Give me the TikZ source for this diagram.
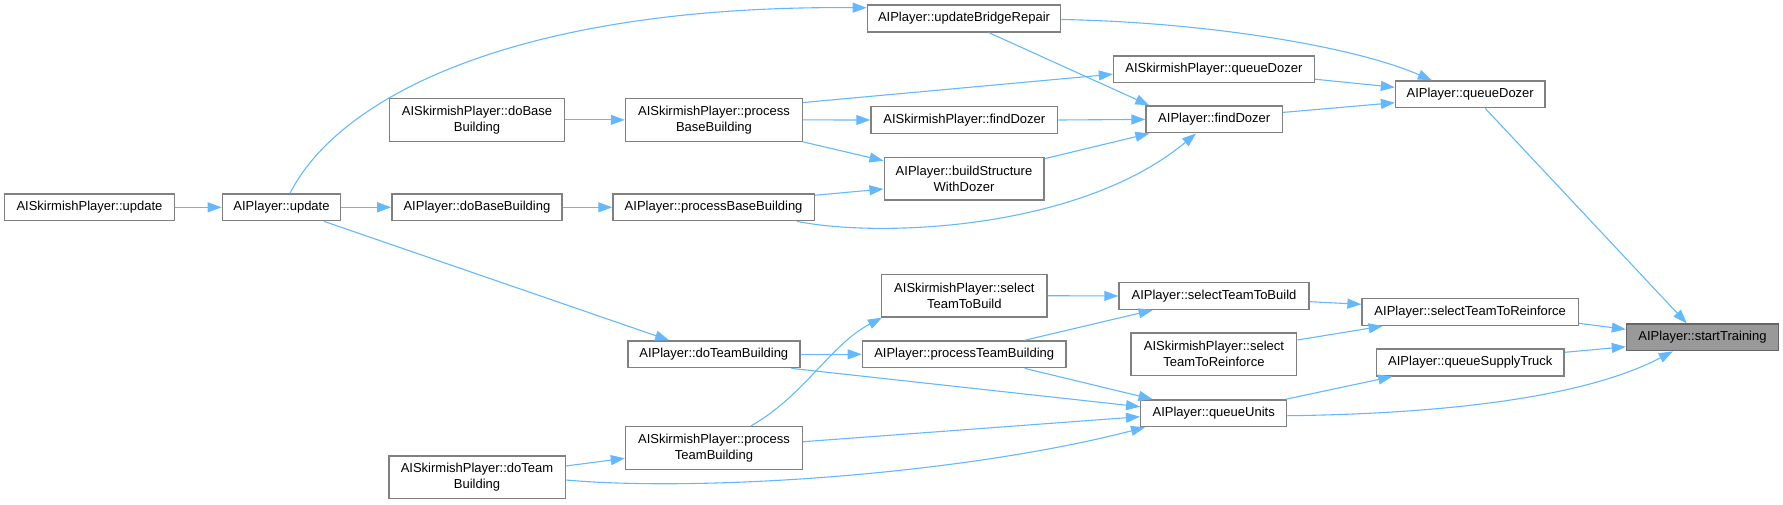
\documentclass[tikz,border=0pt]{standalone}
\usepackage{fontspec}
\setmainfont{Liberation Sans}
\usetikzlibrary{arrows.meta,calc}
\definecolor{edgeblue}{HTML}{63B8FF}
\definecolor{boxline}{HTML}{808080}
\definecolor{hlfill}{HTML}{999999}
\definecolor{hlline}{HTML}{666666}
\begin{document}
\begin{tikzpicture}[x=1pt,y=-1pt,
  fn/.style={draw=boxline, line width=1.4pt, fill=white, inner sep=0pt, align=center,
    font=\fontsize{13}{16}\selectfont, text=black, minimum height=26.7pt},
  tall/.style={minimum height=42.6pt},
  hl/.style={fill=hlfill, draw=hlline},
  call/.style={draw=edgeblue, line width=1.1pt, -{Triangle[length=14pt,width=10pt]}}]
\useasboundingbox (0,0) rectangle (1783,504);

% nodes
\node[fn, minimum width=170pt] (sUpdate) at (89.5,207.3) {AISkirmishPlayer::update};
\node[fn, minimum width=118.4pt] (pUpdate) at (281.5,207.3) {AIPlayer::update};
\node[fn, tall, minimum width=175pt] (sDoBase) at (477,119.9) {AISkirmishPlayer::doBase\\Building};
\node[fn, minimum width=170pt] (pDoBase) at (476.9,207.3) {AIPlayer::doBaseBuilding};
\node[fn, minimum width=193.3pt] (pBridge) at (964,18.5) {AIPlayer::updateBridgeRepair};
\node[fn, tall, minimum width=177pt] (sProcBase) at (714,119.9) {AISkirmishPlayer::process\\BaseBuilding};
\node[fn, minimum width=186.7pt] (sFindDozer) at (964.3,120) {AISkirmishPlayer::findDozer};
\node[fn, tall, minimum width=159.6pt] (pBuild) at (964,178.7) {AIPlayer::buildStructure\\WithDozer};
\node[fn, minimum width=201.3pt] (pProcBase) at (713.6,207.3) {AIPlayer::processBaseBuilding};
\node[fn, minimum width=200.8pt] (sQueueDozer) at (1213.9,69.2) {AISkirmishPlayer::queueDozer};
\node[fn, minimum width=136.3pt] (pFindDozer) at (1214.2,119.4) {AIPlayer::findDozer};
\node[fn, minimum width=149.3pt] (pQueueDozer) at (1470.2,94.3) {AIPlayer::queueDozer};
\node[fn, tall, minimum width=165.3pt] (sSelBuild) at (964.3,295.7) {AISkirmishPlayer::select\\TeamToBuild};
\node[fn, minimum width=190pt] (pSelBuild) at (1214,296) {AIPlayer::selectTeamToBuild};
\node[fn, minimum width=216.3pt] (pSelReinf) at (1470.2,312) {AIPlayer::selectTeamToReinforce};
\node[fn, hl, minimum width=152pt] (start) at (1702.5,337.3) {AIPlayer::startTraining};
\node[fn, tall, minimum width=165.7pt] (sSelReinf) at (1213.9,354.2) {AISkirmishPlayer::select\\TeamToReinforce};
\node[fn, minimum width=187.7pt] (pSupply) at (1470.3,362.5) {AIPlayer::queueSupplyTruck};
\node[fn, minimum width=146pt] (pQueueUnits) at (1213.7,413.3) {AIPlayer::queueUnits};
\node[fn, minimum width=172pt] (pDoTeam) at (713.8,354.3) {AIPlayer::doTeamBuilding};
\node[fn, minimum width=203.6pt] (pProcTeam) at (964.2,354.3) {AIPlayer::processTeamBuilding};
\node[fn, tall, minimum width=177pt] (sProcTeam) at (714,447.9) {AISkirmishPlayer::process\\TeamBuilding};
\node[fn, tall, minimum width=176.4pt] (sDoTeam) at (477,477.3) {AISkirmishPlayer::doTeam\\Building};

% edges
\draw[call] (sUpdate.east) -- (pUpdate.west);
\draw[call] (pUpdate.east) -- (pDoBase.west);
\draw[call] ($(pUpdate.north)+(8.5,0)$) .. controls (340,95) and (520,5) .. ($(pBridge.north west)+(0,3.3)$);
\draw[call] ($(pUpdate.south)+(42.5,0)$) -- ($(pDoTeam.north west)+(42,0)$);
\draw[call] (sDoBase.east) -- (sProcBase.west);
\draw[call] (pDoBase.east) -- (pProcBase.west);
\draw[call] ($(sProcBase.north east)+(0,4.6)$) -- ($(sQueueDozer.west)+(0,5)$);
\draw[call] (sProcBase.east) -- (sFindDozer.west);
\draw[call] (sProcBase.south east) -- ($(pBuild.north west)+(0,4)$);
\draw[call] ($(pProcBase.north east)+(0,2)$) -- ($(pBuild.south west)+(0,-11.7)$);
\draw[call] ($(pProcBase.south east)+(-18,0)$) .. controls (880,238) and (1080,230) .. ($(pFindDozer.south west)+(50.7,0)$);
\draw[call] ($(pBridge.south)+(24.7,0)$) -- ($(pFindDozer.north west)+(4,0)$);
\draw[call] ($(pBridge.east)+(0,1)$) .. controls (1200,22) and (1350,45) .. ($(pQueueDozer.north west)+(37,0)$);
\draw[call] ($(sQueueDozer.east)+(0,10)$) -- ($(pQueueDozer.west)+(0,-7)$);
\draw[call] ($(pFindDozer.east)+(0,-7)$) -- ($(pQueueDozer.west)+(0,8.4)$);
\draw[call] (sFindDozer.east) -- (pFindDozer.west);
\draw[call] ($(pBuild.north east)+(0,2)$) -- ($(pFindDozer.south west)+(4,0)$);
\draw[call] ($(pQueueDozer.south)+(15,0)$) -- ($(start.north)+(-15.8,0)$);
\draw[call] (sSelBuild.east) -- (pSelBuild.west);
\draw[call] ($(pSelBuild.east)+(0,5.7)$) -- ($(pSelReinf.west)+(0,-7.7)$);
\draw[call] ($(pSelReinf.east)+(0,11.3)$) -- ($(start.west)+(0,-8)$);
\draw[call] ($(sSelReinf.east)+(0,-14.2)$) -- ($(pSelReinf.south west)+(21.3,0)$);
\draw[call] ($(pSupply.east)+(0,-10.2)$) -- ($(start.west)+(0,9.4)$);
\draw[call] ($(pQueueUnits.east)+(0,2.4)$) .. controls (1430,414) and (1580,400) .. ($(start.south west)+(47,0)$);
\draw[call] ($(pQueueUnits.north east)+(-1.7,0)$) -- ($(pSupply.south west)+(16.5,0)$);
\draw[call] (pDoTeam.east) -- (pProcTeam.west);
\draw[call] ($(pDoTeam.south east)+(-9.2,0)$) -- ($(pQueueUnits.west)+(0,-6.6)$);
\draw[call] ($(pProcTeam.north east)+(-42,0)$) -- ($(pSelBuild.south west)+(34.3,0)$);
\draw[call] ($(pProcTeam.south east)+(-42,0)$) -- ($(pQueueUnits.north west)+(12.6,0)$);
\draw[call] ($(sProcTeam.north)+(37,0)$) .. controls (805,395) and (830,345) .. ($(sSelBuild.south west)+(1,0)$);
\draw[call] ($(sProcTeam.east)+(0,-6.2)$) -- ($(pQueueUnits.west)+(0,3.4)$);
\draw[call] ($(sDoTeam.east)+(0,-11.3)$) -- ($(sProcTeam.west)+(0,10.4)$);
\draw[call] ($(sDoTeam.east)+(0,2.7)$) .. controls (700,492) and (960,475) .. ($(pQueueUnits.south west)+(5,0)$);
\end{tikzpicture}
\end{document}
